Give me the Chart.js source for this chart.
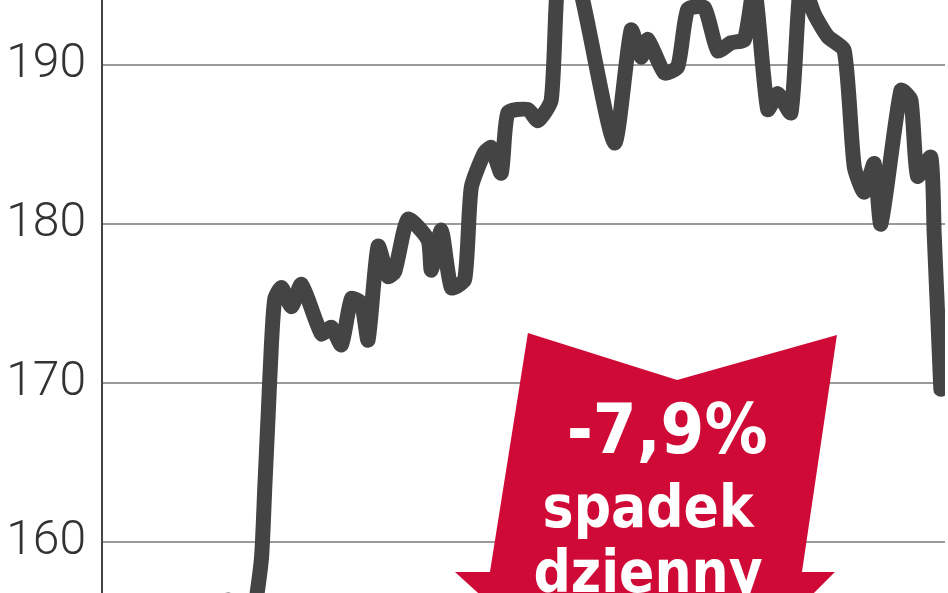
<!DOCTYPE html>
<html lang="pl">
<head>
<meta charset="UTF-8">
<title>Kurs akcji</title>
<script src="https://cdn.jsdelivr.net/npm/chart.js"></script>
<style>
  html, body { margin: 0; padding: 0; background: #fff; }
  #wrap { position: relative; width: 948px; height: 593px; }
</style>
</head>
<body>
<div id="wrap"><canvas id="priceChart"></canvas></div>
<script>
    // sesje (numer dnia) i kurs zamknięcia
    const sessions = [0, 6, 12, 20, 27, 33, 37, 41, 44, 45, 47, 48, 49, 50, 51, 53, 56, 59, 65, 68,
        71, 74, 77, 79, 82, 85, 87, 91, 97, 98, 101, 104, 108, 110, 114, 116, 119, 121, 127, 130,
        134, 136, 139, 143, 153, 158, 161, 163, 168, 172, 175, 180, 184, 188, 192, 195, 199, 202, 206, 209,
        213, 217, 222, 225, 228, 231, 233, 239, 242, 244, 248, 249, 251];
    const prices = [156.0, 156.1, 156.0, 155.9, 156.0, 156.1, 156.35, 156.0, 155.9, 155.9, 159.0, 163.5, 168.0, 172.5, 175.3, 176.0, 174.8, 176.2, 173.1, 173.5,
        172.4, 175.3, 175.0, 172.7, 178.6, 176.7, 177.0, 180.3, 179.0, 177.1, 179.6, 176.0, 176.5, 182.3, 184.5, 184.8, 183.2, 187.0, 187.2, 186.5,
        187.8, 195.5, 196.5, 194.5, 185.1, 192.2, 190.5, 191.6, 189.5, 189.9, 193.5, 193.6, 190.9, 191.4, 191.6, 195.0, 187.2, 188.2, 187.0, 195.3,
        193.2, 191.8, 190.9, 183.6, 182.0, 183.8, 180.0, 188.4, 187.8, 183.0, 184.2, 179.4, 169.6];
    const yTicks = [160, 170, 180, 190];

    const dropLabel = ['-7,9%', 'spadek', 'dzienny'];
    // strzałka w układzie (sesja, kurs)
    const arrowShape = [[127.0, 173.14], [171.8, 170.19], [219.8, 173.02], [209.3, 158.11],
        [219.2, 158.11], [164.9, 146.73], [105.1, 158.11], [115.6, 158.11]];
    const labelAnchors = [[168.8, 165.6], [163.1, 160.94], [163.1, 156.86]];

    const arrowPlugin = {
        id: 'dropArrow',
        afterDatasetsDraw(chart) {
            const ctx = chart.ctx;
            const xs = chart.scales.x, ys = chart.scales.y;
            ctx.save();
            ctx.beginPath();
            arrowShape.forEach(([d, v], i) => {
                const px = xs.getPixelForValue(d), py = ys.getPixelForValue(v);
                if (i === 0) ctx.moveTo(px, py); else ctx.lineTo(px, py);
            });
            ctx.closePath();
            ctx.fillStyle = '#cf0a36';
            ctx.fill();

            ctx.fillStyle = '#ffffff';
            ctx.textAlign = 'center';
            ctx.textBaseline = 'alphabetic';
            dropLabel.forEach((t, i) => {
                ctx.font = (i === 0 ? 'bold 70px' : 'bold 58px') + ' "DejaVu Sans Condensed", "DejaVu Sans", sans-serif';
                const [d, v] = labelAnchors[i];
                ctx.fillText(t, xs.getPixelForValue(d), ys.getPixelForValue(v));
            });
            ctx.restore();
        }
    };

    const ctx = document.getElementById('priceChart').getContext('2d');
    const priceChart = new Chart(ctx, {
        type: 'line',
        data: {
            datasets: [{
                data: sessions.map((s, i) => ({ x: s, y: prices[i] })),
                borderColor: '#444444',
                borderWidth: 15,
                borderCapStyle: 'round',
                borderJoinStyle: 'round',
                pointRadius: 0,
                tension: 0.2,
                fill: false
            }]
        },
        options: {
            responsive: true,
            maintainAspectRatio: false,
            animation: false,
            layout: { padding: { left: 0, right: 3, top: 0, bottom: 0 } },
            plugins: { legend: { display: false }, tooltip: { enabled: false } },
            scales: {
                x: {
                    type: 'linear',
                    display: false,
                    min: -0.9,
                    max: 252.25
                },
                y: {
                    min: 156.79,
                    max: 194.088,
                    afterBuildTicks: (axis) => { axis.ticks = yTicks.map(v => ({ value: v })); },
                    afterFit: (axis) => {
                        axis.width = 102;
                        axis.paddingTop = 0;
                        axis.paddingBottom = 0;
                    },
                    border: { display: true, color: '#444444', width: 2 },
                    grid: { color: '#9a9a9a', lineWidth: 2, drawTicks: false },
                    ticks: {
                        padding: 16,
                        color: '#333333',
                        font: { family: 'Roboto', size: 48, weight: '300' }
                    }
                }
            }
        },
        plugins: [arrowPlugin]
    });
</script>
</body>
</html>
